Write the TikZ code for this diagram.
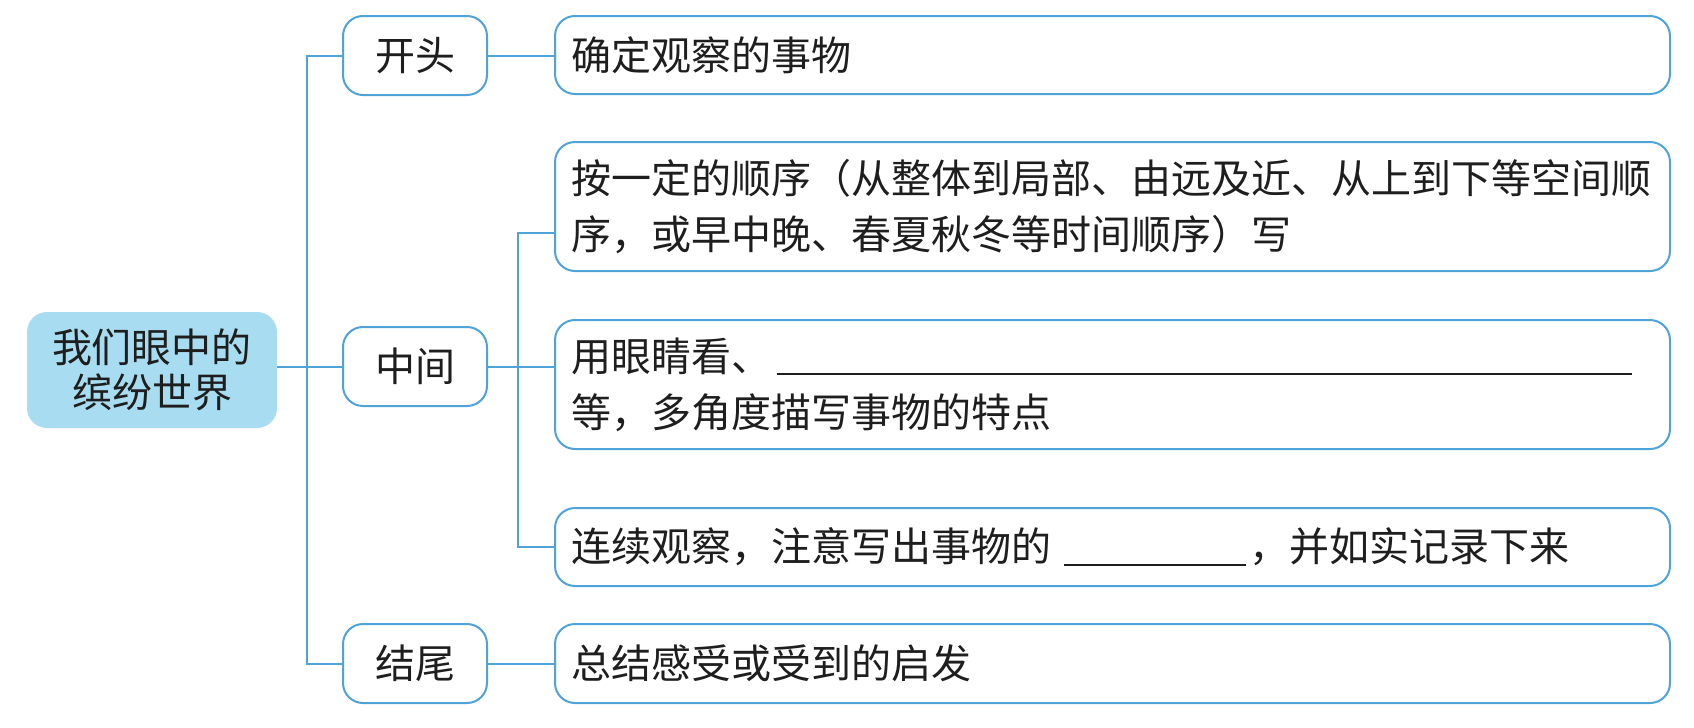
\documentclass[tikz,border=0pt]{standalone}
\usepackage{fontspec}
\setmainfont{Noto Sans CJK SC}
\newfontfamily\cjk{Noto Sans CJK SC}
\definecolor{lineblue}{HTML}{4FA3D9}
\definecolor{rootfill}{HTML}{A8DDF1}
\definecolor{ink}{HTML}{1E1E1E}
\begin{document}
\begin{tikzpicture}[x=0.5pt,y=-0.5pt,
  conn/.style={draw=lineblue,line width=1pt},
  rootbox/.style={rectangle,rounded corners=10pt,fill=rootfill,minimum width=125pt,minimum height=58pt,inner sep=0pt,align=center,font=\cjk\fontsize{20pt}{22.5pt}\selectfont,text=ink},
  midbox/.style={rectangle,rounded corners=10pt,draw=lineblue,line width=1pt,fill=white,minimum width=72pt,minimum height=39.5pt,inner sep=0pt,font=\cjk\fontsize{20pt}{24pt}\selectfont,text=ink},
  leafbox/.style={rectangle,rounded corners=10pt,draw=lineblue,line width=1pt,fill=white,minimum width=557.5pt,inner xsep=8pt,inner ysep=0pt,text width=541pt,align=left,font=\cjk\fontsize{20pt}{28pt}\selectfont,text=ink}
]
\useasboundingbox (0,0) rectangle (1694,728);
\fill[white] (0,0) rectangle (1694,728);

\node[rootbox] (root) at (152,370) {我们眼中的\\缤纷世界};

\node[midbox] (kaitou) at (415,55.5) {开头};
\node[midbox] (zhongjian) at (415,366.5) {中间};
\node[midbox] (jiewei) at (415,663.5) {结尾};

\node[leafbox,minimum height=39pt] (queding) at (1112.5,55) {确定观察的事物};
\node[leafbox,minimum height=64.5pt] (an) at (1112.5,206.5) {按一定的顺序（从整体到局部、由远及近、从上到下等空间顺\\序，或早中晚、春夏秋冬等时间顺序）写};
\node[leafbox,minimum height=64.5pt] (yong) at (1112.5,384.5) {用眼睛看、\hspace{2.5pt}\rule[-2pt]{428pt}{0.9pt}\\等，多角度描写事物的特点};
\node[leafbox,minimum height=39pt] (lian) at (1112.5,547) {连续观察，注意写出事物的\hspace{6pt}\rule[-2pt]{91pt}{0.9pt}\hspace{2pt}，并如实记录下来};
\node[leafbox,minimum height=39.5pt] (zongjie) at (1112.5,663.5) {总结感受或受到的启发};

% main trunk
\coordinate (trunk) at (307,366.5);
\draw[conn] (kaitou.west) -| (trunk) |- (jiewei.west);
\draw[conn] (root.east |- zhongjian.west) -- (zhongjian.west);
\draw[conn] (kaitou.east) -- (queding.west |- kaitou.east);
\draw[conn] (jiewei.east) -- (zongjie.west |- jiewei.east);

% secondary trunk
\coordinate (sub) at (518,233);
\draw[conn] (zhongjian.east) -- (yong.west |- zhongjian.east);
\draw[conn] (sub -| an.west) -- (sub) |- (lian.west);
\end{tikzpicture}
\end{document}
